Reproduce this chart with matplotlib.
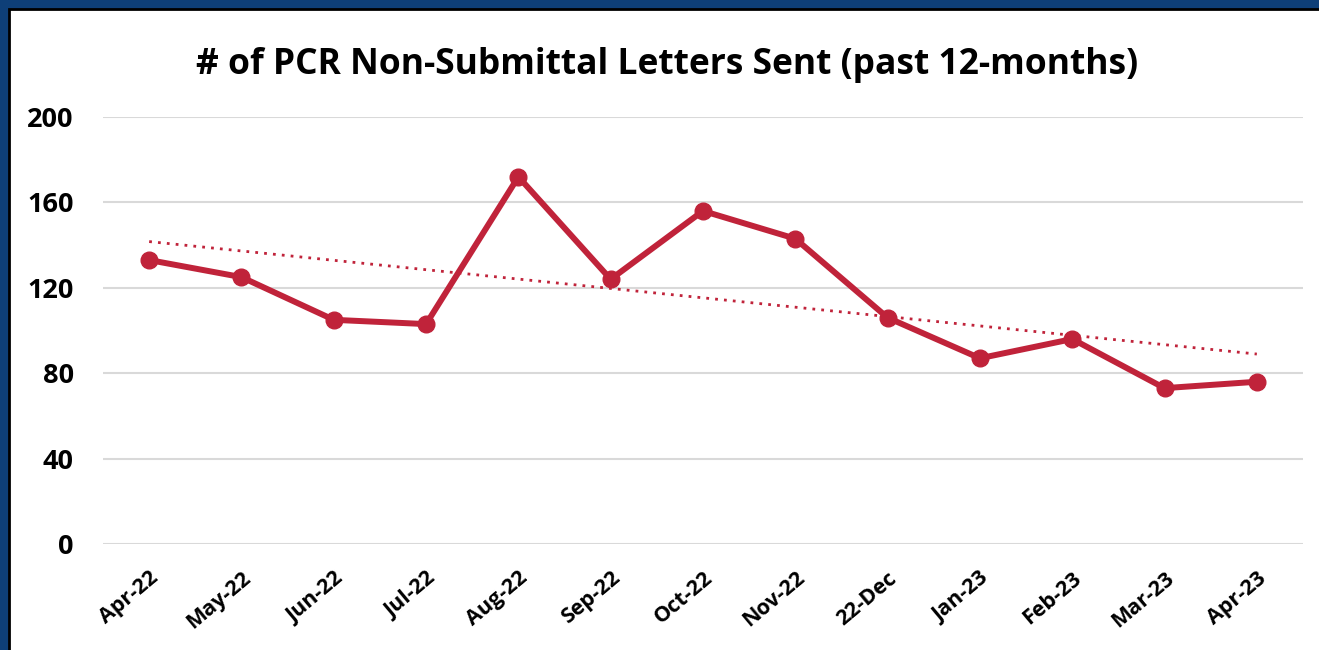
import matplotlib.pyplot as plt
import matplotlib.patches as mpatches
import numpy as np

months = ['Apr-22', 'May-22', 'Jun-22', 'Jul-22', 'Aug-22', 'Sep-22', 'Oct-22',
          'Nov-22', '22-Dec', 'Jan-23', 'Feb-23', 'Mar-23', 'Apr-23']
letters = [133, 125, 105, 103, 172, 124, 156, 143, 106, 87, 96, 73, 76]
yticks = [0, 40, 80, 120, 160, 200]

red = '#C0233A'
plt.rcParams['font.family'] = ['Open Sans', 'DejaVu Sans']

fig = plt.figure(figsize=(13.19, 6.5), dpi=100)
fig.patch.set_facecolor('#0E3F78')
# white panel with black edge inside the blue frame
fig.patches.append(mpatches.Rectangle((9 / 1319, -0.1), 1.1, 1 - 9 / 650 + 0.1,
                                      transform=fig.transFigure, facecolor='white',
                                      edgecolor='black', linewidth=2, zorder=-1))

ax = fig.add_axes([103 / 1319, 1 - 544 / 650, 1200 / 1319, 427 / 650])
ax.set_facecolor('none')
ax.set_zorder(1)

x = np.arange(len(months))
ax.plot(x, letters, color=red, linewidth=4.3, marker='o', markersize=12,
        solid_capstyle='round', zorder=3)

m, b = np.polyfit(x, letters, 1)
ax.plot(x, m * x + b, color=red, linewidth=2, linestyle=(0, (1, 2.2)), zorder=2)

ax.set_xlim(-0.5, len(months) - 0.5)
ax.set_ylim(0, 200)
ax.set_yticks(yticks)
ax.set_yticklabels([str(v) for v in yticks], fontsize=19.5, fontweight='bold')
ax.set_xticks(x)
ax.set_xticklabels(months, fontsize=15.5, fontweight='bold', rotation=40,
                   ha='right', rotation_mode='anchor')
ax.tick_params(length=0, pad=21, axis='y')
ax.tick_params(length=0, pad=17, axis='x')
ax.grid(axis='y', color='#D9D9D9', linewidth=1.5)
ax.set_axisbelow(True)
for s in ax.spines.values():
    s.set_visible(False)

fig.text(667 / 1319, 1 - 65 / 650, '# of PCR Non-Submittal Letters Sent (past 12-months)',
         ha='center', va='center', fontsize=25.5, fontweight='bold')

fig.savefig('out.png', dpi=100)
